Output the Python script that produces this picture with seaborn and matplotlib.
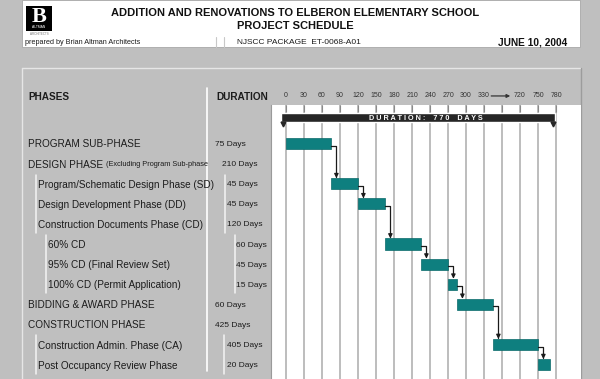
import matplotlib.pyplot as plt
import matplotlib.transforms as mtransforms
from matplotlib.patches import Rectangle
import seaborn as sns
import numpy as np

# DATA
phases = ["PROGRAM SUB-PHASE", "DESIGN PHASE",
          "Program/Schematic Design Phase (SD)", "Design Development Phase (DD)",
          "Construction Documents Phase (CD)", "60% CD",
          "95% CD (Final Review Set)", "100% CD (Permit Application)",
          "BIDDING & AWARD PHASE", "CONSTRUCTION PHASE",
          "Construction Admin. Phase (CA)", "Post Occupancy Review Phase"]
levels = [0, 0, 1, 1, 1, 2, 2, 2, 0, 0, 1, 1]
durations = [75, 210, 45, 45, 120, 60, 45, 15, 60, 425, 405, 20]

# rows that carry a bar, with start day and length in days
bar_rows = [0, 2, 3, 5, 6, 7, 8, 10, 11]
bar_start = [0, 75, 120, 165, 225, 270, 285, 345, 750]
bar_days = [75, 45, 45, 60, 45, 15, 60, 405, 20]
total_days = 770

day_ticks = [0, 30, 60, 90, 120, 150, 180, 210, 240, 270, 300, 330, 360, 720, 750, 780]
tick_labels = ["0", "30", "60", "90", "120", "150", "180", "210", "240", "270",
               "300", "330", "", "720", "750", "780"]

GRAY = "#bfbfbf"
TEAL = "#0e7f7f"
INK = "#1c1c1c"


# broken day axis: 30 days per step up to 360, then jump to 720
def fwd(d):
    d = np.asarray(d, dtype=float)
    return np.where(d <= 360, d / 30,
                    np.where(d >= 720, 13 + (d - 720) / 30, 12 + (d - 360) / 360))


def inv(u):
    u = np.asarray(u, dtype=float)
    return np.where(u <= 12, u * 30,
                    np.where(u >= 13, 720 + (u - 13) * 30, 360 + (u - 12) * 360))


sns.set_style("white")
plt.rcParams["font.family"] = ["Liberation Sans", "DejaVu Sans"]

fig = plt.figure(figsize=(6, 3.79), dpi=100)
fig.patch.set_facecolor(GRAY)

# pixel-space layer for frame and text
bg = fig.add_axes([0, 0, 1, 1])
bg.set_xlim(0, 600)
bg.set_ylim(379, 0)
bg.axis("off")

# header block
bg.add_patch(Rectangle((22, 0), 558, 47, fc="white", ec="#a8a8a8", lw=0.6))
bg.add_patch(Rectangle((26, 6), 26, 25, fc="black", ec="none"))
bg.text(39, 16.5, "B", color="white", fontsize=16, fontweight="bold",
        family="Liberation Serif", ha="center", va="center")
bg.text(39, 27.5, "ALTMAN", color="white", fontsize=2.4, ha="center", va="center")
bg.text(39, 34, "ARCHITECTS", color="#777777", fontsize=2.2, ha="center", va="center")
bg.text(25, 42.5, "prepared by Brian Altman Architects", fontsize=5.2, color=INK, va="center")
bg.text(295, 13, "ADDITION AND RENOVATIONS TO ELBERON ELEMENTARY SCHOOL",
        fontsize=8, fontweight="bold", color="#111111", ha="center", va="center")
bg.text(295, 26, "PROJECT SCHEDULE", fontsize=8, fontweight="bold",
        color="#111111", ha="center", va="center")
bg.text(237, 42.5, "NJSCC PACKAGE  ET-0068-A01", fontsize=6, color=INK, va="center")
bg.text(567, 42.5, "JUNE 10, 2004", fontsize=7.3, fontweight="bold",
        color="#111111", ha="right", va="center")
for xs in (216, 224):
    bg.plot([xs, xs], [37, 47], color="#c8c8c8", lw=0.8)

# panel bevel
bg.plot([22, 580], [68, 68], color="#e6e6e6", lw=1)
bg.plot([22, 22], [68, 379], color="#e6e6e6", lw=1)
bg.plot([580.5, 580.5], [68, 379], color="#9c9c9c", lw=1)

bg.text(28, 97, "PHASES", fontsize=7.2, fontweight="bold", color=INK, va="center")
bg.text(216, 97, "DURATION", fontsize=7.2, fontweight="bold", color=INK, va="center")
bg.plot([207, 207], [88, 371], color="white", lw=1.2)

# gantt axes
ax = fig.add_axes([271 / 600, 0, 310 / 600, 274 / 379])
ax.set_facecolor("white")

sns.barplot(x=bar_days, y=bar_rows, orient="y", native_scale=True,
            left=bar_start, width=0.55, color=TEAL, saturation=1,
            errorbar=None, edgecolor="#0a6a6a", linewidth=0.5, ax=ax)

ax.set_xscale("function", functions=(fwd, inv))
ax.set_xlim(-25, 821.7)
ax.set_ylim(11.716, -1.915)

ax.xaxis.tick_top()
ax.set_xticks(day_ticks)
ax.set_xticklabels(tick_labels)
ax.tick_params(axis="x", direction="in", length=5, width=0.8, color="#8a8a8a",
               pad=4.5, labelsize=5, labelcolor="#333333")
ax.set_yticks([])
ax.set_xlabel("")
ax.set_ylabel("")
ax.grid(True, axis="x", color="#b2b2b2", lw=1.2)
ax.set_axisbelow(True)
for side in ("top", "right", "bottom"):
    ax.spines[side].set_visible(False)
ax.spines["left"].set_color("#9a9a9a")
ax.spines["left"].set_linewidth(0.8)

# break arrow in place of the 360 label
ax.annotate("", xy=(525, 1.033), xytext=(342, 1.033),
            xycoords=ax.get_xaxis_transform(), annotation_clip=False,
            arrowprops=dict(arrowstyle="-|>", color="#333333", lw=0.9,
                            mutation_scale=5, shrinkA=0, shrinkB=0))

# overall duration summary bar
ax.barh(-1.275, total_days + 16, left=-8, height=0.45, color="#262626", zorder=3)
ax.plot([-5, total_days + 5], [-0.95, -0.95], ls="none", marker="v", ms=3.5,
        color="#262626", zorder=3)
ax.text(0.5, -1.26, "D U R A T I O N :    7 7 0    D A Y S",
        transform=mtransforms.blended_transform_factory(ax.transAxes, ax.transData),
        color="white", fontsize=5.2, fontweight="bold", ha="center", va="center", zorder=4)

# dependency arrows
for k in range(len(bar_rows) - 1):
    x0 = bar_start[k] + bar_days[k]
    ax.annotate("", xy=(x0 + 9, bar_rows[k + 1] - 0.275), xytext=(x0, bar_rows[k] + 0.1),
                arrowprops=dict(arrowstyle="-|>", color="#1a1a1a", lw=0.9,
                                connectionstyle="angle,angleA=0,angleB=90,rad=0",
                                mutation_scale=6, shrinkA=0, shrinkB=0), zorder=4)

# row labels, aligned to the gantt rows
trans = mtransforms.blended_transform_factory(bg.transData, ax.transData)
label_x = {0: 28, 1: 38, 2: 48}
dur_x = {0: 215, 1: 227, 2: 236}
for i, (name, lev, d) in enumerate(zip(phases, levels, durations)):
    bg.text(label_x[lev], i + 0.05, name, transform=trans, fontsize=7.2,
            color=INK, va="center")
    dx = dur_x[lev]
    if i == 1:
        bg.text(106, i + 0.05, "(Excluding Program Sub-phase", transform=trans,
                fontsize=5.3, color=INK, va="center")
        dx = 222
    bg.text(dx, i + 0.05, f"{d} Days", transform=trans, fontsize=6,
            color=INK, va="center")

# indent guides
for r0, r1, lx, dx in [(2, 4, 36, 225), (5, 7, 46, 235), (10, 11, 36, 224)]:
    for xg in (lx, dx):
        bg.plot([xg, xg], [r0 - 0.45, r1 + 0.45], transform=trans,
                color="#f4f4f4", lw=1.1)

fig.savefig("out.png", dpi=100, facecolor=fig.get_facecolor())
